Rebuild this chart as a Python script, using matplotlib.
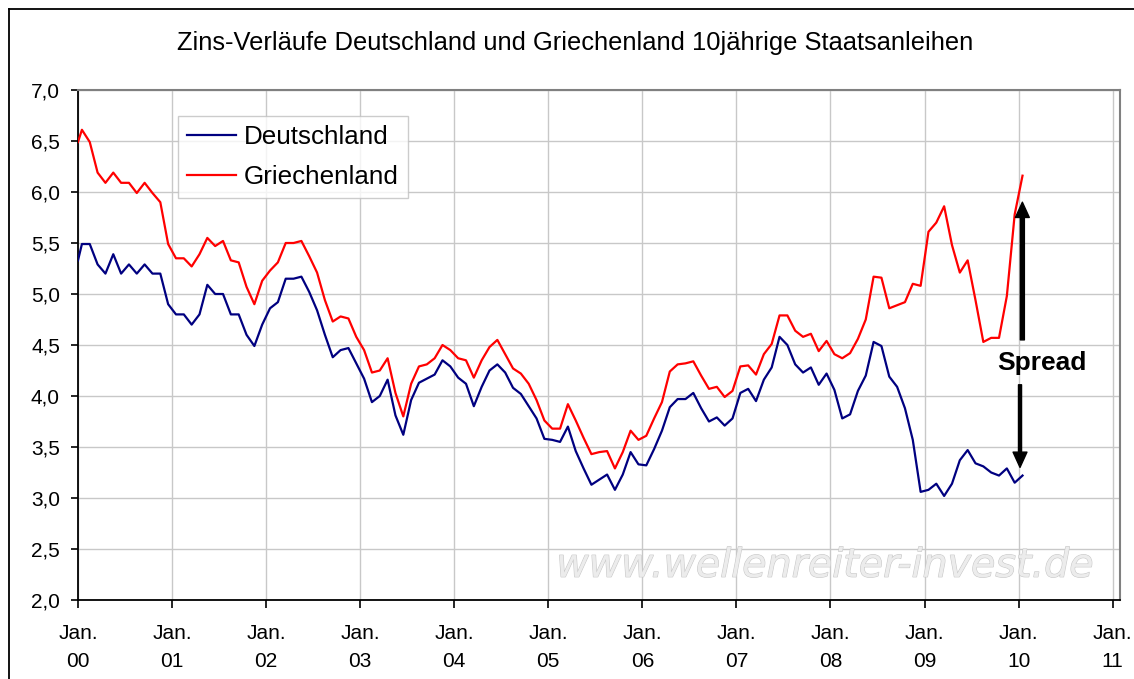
import matplotlib
matplotlib.use("Agg")
import matplotlib.pyplot as plt
import matplotlib.patheffects as pe
from matplotlib.lines import Line2D
import numpy as np

# Monthly yields of 10-year government bonds, Jan 2000 - Jan 2010 (values in %)
# first value = start of the line at the Jan. 00 axis, the rest are mid-month readings
deutschland = [
    5.33,
    5.49, 5.49, 5.29, 5.20, 5.39, 5.20, 5.29, 5.20, 5.29, 5.20, 5.20, 4.90,
    4.80, 4.80, 4.70, 4.80, 5.09, 5.00, 5.00, 4.80, 4.80, 4.60, 4.49, 4.70,
    4.86, 4.92, 5.15, 5.15, 5.17, 5.02, 4.84, 4.60, 4.38, 4.45, 4.47, 4.32,
    4.17, 3.94, 4.00, 4.16, 3.81, 3.62, 3.96, 4.13, 4.17, 4.21, 4.35, 4.29,
    4.18, 4.12, 3.90, 4.09, 4.25, 4.31, 4.23, 4.08, 4.02, 3.90, 3.78, 3.58,
    3.57, 3.55, 3.70, 3.46, 3.29, 3.13, 3.18, 3.23, 3.08, 3.23, 3.45, 3.33,
    3.32, 3.48, 3.66, 3.89, 3.97, 3.97, 4.03, 3.88, 3.75, 3.79, 3.71, 3.78,
    4.03, 4.07, 3.95, 4.16, 4.28, 4.58, 4.50, 4.31, 4.23, 4.28, 4.11, 4.22,
    4.06, 3.78, 3.82, 4.05, 4.20, 4.53, 4.49, 4.19, 4.09, 3.88, 3.57, 3.06,
    3.08, 3.14, 3.02, 3.14, 3.37, 3.47, 3.34, 3.31, 3.25, 3.22, 3.29, 3.15,
    3.22,
]
griechenland = [
    6.49,
    6.61, 6.49, 6.19, 6.09, 6.19, 6.09, 6.09, 5.99, 6.09, 5.99, 5.90, 5.49,
    5.35, 5.35, 5.27, 5.39, 5.55, 5.47, 5.52, 5.33, 5.31, 5.07, 4.90, 5.13,
    5.23, 5.31, 5.50, 5.50, 5.52, 5.37, 5.21, 4.94, 4.73, 4.78, 4.76, 4.58,
    4.45, 4.23, 4.25, 4.37, 4.03, 3.80, 4.12, 4.29, 4.31, 4.37, 4.50, 4.45,
    4.37, 4.35, 4.18, 4.35, 4.48, 4.55, 4.41, 4.27, 4.22, 4.12, 3.96, 3.76,
    3.68, 3.68, 3.92, 3.76, 3.59, 3.43, 3.45, 3.46, 3.29, 3.45, 3.66, 3.57,
    3.61, 3.78, 3.94, 4.24, 4.31, 4.32, 4.34, 4.20, 4.07, 4.09, 3.99, 4.05,
    4.29, 4.30, 4.21, 4.41, 4.51, 4.79, 4.79, 4.64, 4.58, 4.61, 4.44, 4.54,
    4.41, 4.37, 4.42, 4.56, 4.75, 5.17, 5.16, 4.86, 4.89, 4.92, 5.10, 5.08,
    5.61, 5.70, 5.86, 5.48, 5.21, 5.33, 4.94, 4.53, 4.57, 4.57, 4.98, 5.78,
    6.16,
]
year_labels = ["00", "01", "02", "03", "04", "05", "06", "07", "08", "09", "10", "11"]

# x in years since Jan 2000: line start, then the middle of each month
n_months = len(deutschland) - 1
x = np.concatenate([[0.0], (np.arange(n_months) + 0.5) / 12.0])

plt.rcParams["font.family"] = ["Liberation Sans", "DejaVu Sans"]

W, H = 1134, 679
fig = plt.figure(figsize=(W / 100, H / 100), dpi=100)
ax = fig.add_axes([78 / W, 1 - 600 / H, (1120 - 78) / W, (600 - 90) / H])

# outer chart border: only left and top edges are inside the screenshot
bx, by = 8.5 / W, 1 - 8.5 / H
fig.add_artist(Line2D([bx, bx], [0, by], transform=fig.transFigure,
                      color="black", lw=1.3))
fig.add_artist(Line2D([bx, 1], [by, by], transform=fig.transFigure,
                      color="black", lw=1.3))

ax.plot(x, deutschland, color="#000080", lw=1.6, label="Deutschland", zorder=3)
ax.plot(x, griechenland, color="#ff0000", lw=1.6, label="Griechenland", zorder=3)

ax.set_xlim(0, 11.078)
ax.set_ylim(2.0, 7.0)
ax.set_xticks(range(len(year_labels)))
ax.set_xticklabels(["Jan.\n" + y for y in year_labels], linespacing=1.6)
yt = np.arange(2.0, 7.01, 0.5)
ax.set_yticks(yt)
ax.set_yticklabels([f"{v:.1f}".replace(".", ",") for v in yt])
ax.tick_params(axis="x", length=6, width=1.2, pad=11, labelsize=15)
ax.tick_params(axis="y", length=5, width=1.2, pad=8, labelsize=15)

ax.grid(True, color="#c8c8c8", lw=1)
ax.set_axisbelow(True)
for s in ("left", "bottom"):
    ax.spines[s].set_color("black")
    ax.spines[s].set_linewidth(1.3)
for s in ("top", "right"):
    ax.spines[s].set_color("#808080")
    ax.spines[s].set_linewidth(1.5)

# watermark
ax.text(0.459, 0.068, "www.wellenreiter-invest.de", transform=ax.transAxes,
        fontsize=28.5, family="DejaVu Sans", style="italic", color="#ececec",
        ha="left", va="center", zorder=1,
        path_effects=[pe.withStroke(linewidth=0.8, foreground="#c8c8c8")])

leg = ax.legend(loc="upper left", bbox_to_anchor=(178 / W, 1 - 116 / H),
                bbox_transform=fig.transFigure, fontsize=18.7, frameon=True,
                fancybox=False, edgecolor="#c0c0c0", borderaxespad=0,
                handlelength=1.9, handletextpad=0.3, labelspacing=0.6,
                borderpad=0.35)
leg.get_frame().set_linewidth(1.0)
for line in leg.get_lines():
    line.set_linewidth(1.6)

fig.text(575 / W, 1 - 43 / H,
         "Zins-Verläufe Deutschland und Griechenland 10jährige Staatsanleihen",
         ha="center", va="center", fontsize=18.4)

# spread arrows
ax.annotate("", xy=(10.04, 5.90), xytext=(10.04, 4.55),
            arrowprops=dict(width=2.9, headwidth=10, headlength=11,
                            color="black", shrink=0), zorder=4)
ax.annotate("", xy=(10.015, 3.30), xytext=(10.015, 4.11),
            arrowprops=dict(width=2.2, headwidth=10, headlength=11,
                            color="black", shrink=0), zorder=4)
ax.text(10.25, 4.32, "Spread", ha="center", va="center", fontsize=19,
        fontweight="bold", zorder=4)

fig.savefig("out.png", dpi=100)
